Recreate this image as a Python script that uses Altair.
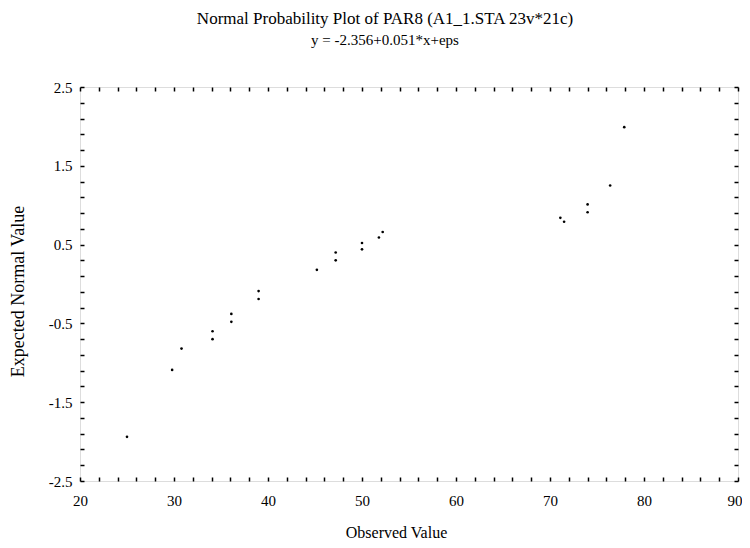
import altair as alt
import pandas as pd

observed = [25.0, 29.8, 30.8, 34.1, 34.1, 36.1, 36.1, 39.0, 39.0, 45.2, 47.2,
            47.2, 50.0, 50.0, 51.8, 52.2, 71.1, 71.5, 74.0, 74.0, 76.4, 77.9]
expected = [-1.94, -1.09, -0.82, -0.60, -0.70, -0.38, -0.48, -0.09, -0.19, 0.18, 0.40,
            0.30, 0.52, 0.44, 0.59, 0.66, 0.84, 0.79, 1.01, 0.91, 1.25, 1.99]

x_tick_labels = [20, 30, 40, 50, 60, 70, 80, 90]
y_tick_labels = [2.5, 1.5, 0.5, -0.5, -1.5, -2.5]
x_minor_ticks = [20 + 2 * i for i in range(36)]
y_minor_ticks = [round(2.5 - 0.2 * i, 1) for i in range(26)]

df = pd.DataFrame({"obs": observed, "exp": expected})

FONT = "Liberation Serif"

x_lab_expr = "indexof([" + ",".join(f"'{v}'" for v in x_tick_labels) + "], toString(datum.value)) >= 0 ? toString(datum.value) : ''"
y_lab_expr = "indexof([" + ",".join(f"'{v}'" for v in y_tick_labels) + "], toString(datum.value)) >= 0 ? toString(datum.value) : ''"
x_last = x_tick_labels[-1]

x_scale = alt.Scale(domain=[20, 90], nice=False, zero=False)
y_scale = alt.Scale(domain=[-2.5, 2.5], nice=False, zero=False)

pts = alt.Chart(df).mark_circle(size=7, color="black", opacity=1).encode(
    x=alt.X("obs:Q", scale=x_scale,
            axis=alt.Axis(orient="bottom", values=x_minor_ticks, labelExpr=x_lab_expr,
                          offset=-4, tickSize=4, tickColor="black", tickWidth=1.5,
                          domain=False, grid=False, labelPadding=12,
                          labelAlign={"expr": f"datum.value == {x_last} ? 'right' : 'center'"},
                          labelOffset={"expr": f"datum.value == {x_last} ? 4 : 0"},
                          labelFont=FONT, labelFontSize=15, labelColor="black",
                          title="Observed Value", titleFont=FONT, titleFontSize=16,
                          titleFontWeight="normal", titleColor="black",
                          titleX=316, titleY=55, titleBaseline="middle",
                          labelFlush=False, labelOverlap=False)),
    y=alt.Y("exp:Q", scale=y_scale,
            axis=alt.Axis(orient="left", values=y_minor_ticks, labelExpr=y_lab_expr,
                          offset=-4, tickSize=4, tickColor="black", tickWidth=1.5,
                          domain=False, grid=False, labelPadding=8,
                          labelFont=FONT, labelFontSize=15, labelColor="black",
                          title="Expected Normal Value", titleFont=FONT, titleFontSize=18,
                          titleFontWeight="normal", titleColor="black",
                          titleX=-66, titleY=204, titleBaseline="middle", titleAlign="center",
                          labelFlush=False, labelOverlap=False)),
)

ticks2 = alt.Chart(df).mark_circle(size=7, opacity=0).encode(
    x=alt.X("obs:Q", scale=x_scale,
            axis=alt.Axis(orient="top", values=x_minor_ticks, labels=False, offset=-4,
                          tickSize=4, tickColor="black", tickWidth=1.5, domain=False,
                          grid=False, title=None)),
    y=alt.Y("exp:Q", scale=y_scale,
            axis=alt.Axis(orient="right", values=y_minor_ticks, labels=False, offset=-4,
                          tickSize=4, tickColor="black", tickWidth=1.5, domain=False,
                          grid=False, title=None)),
)

chart = alt.layer(pts, ticks2).resolve_axis(x="independent", y="independent").properties(
    width=658,
    height=394,
    autosize=alt.AutoSizeParams(type="none"),
    padding={"left": 72, "top": 79, "right": 4, "bottom": 59},
    title=alt.TitleParams(
        text="Normal Probability Plot of PAR8 (A1_1.STA 23v*21c)",
        subtitle="y = -2.356+0.051*x+eps",
        anchor="middle", dx=-24, offset=31,
        font=FONT, fontSize=17, fontWeight="normal", color="black",
        subtitleFont=FONT, subtitleFontSize=15, subtitleColor="black",
        subtitlePadding=5,
    ),
).configure_view(stroke="black", strokeWidth=2).configure(background="white")

chart.save("out.html", embed_options={"renderer": "svg", "actions": False})
